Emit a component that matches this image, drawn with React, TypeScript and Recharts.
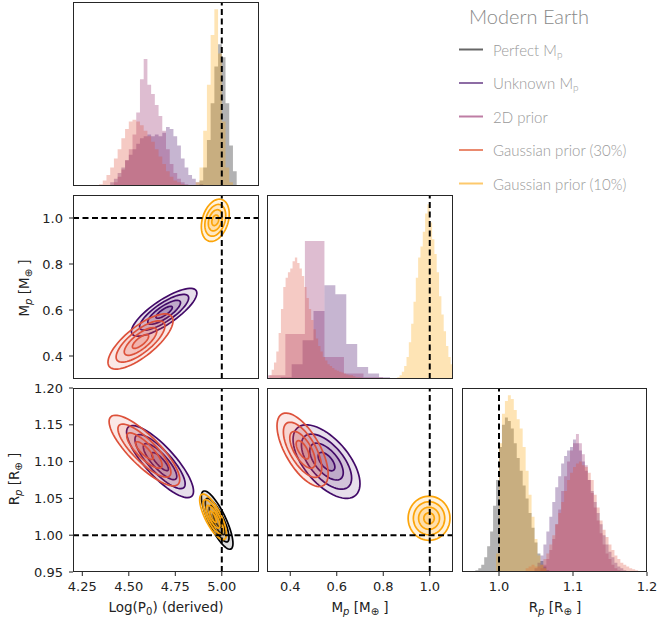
import React from "react";
import { ComposedChart, Area, Scatter, XAxis, YAxis, ReferenceLine } from "recharts";

// series colours (inferno-like)
const C_PERFECT = "#000004";
const C_UNKNOWN = "#420a68";
const C_PRIOR2D = "#932667";
const C_GAUSS30 = "#dd513a";
const C_GAUSS10 = "#fca50a";

const legendNames = ["Perfect M", "Unknown M", "2D prior", "Gaussian prior (30%)", "Gaussian prior (10%)"];
const legendColors = ["#666666", "#8d6ca4", "#be7da4", "#ea8a6f", "#fdc96c"];

const logpTicks = [4.25, 4.5, 4.75, 5.0];
const mpTicks = [0.4, 0.6, 0.8, 1.0];
const rpTicksY = [0.95, 1.0, 1.05, 1.1, 1.15, 1.2];
const rpTicksX = [1.0, 1.1, 1.2];

// ---- 1D histograms: bin start, bin width, heights (fraction of panel) ----
const logpPerfect = { from: 4.88, w: 0.02, h: [0.03, 0.1, 0.25, 0.45, 0.65, 0.77, 0.7, 0.45, 0.22, 0.08] };
const logpUnknown = { from: 4.4, w: 0.02, h: [0.02, 0.04, 0.07, 0.1, 0.14, 0.17, 0.2, 0.23, 0.26, 0.27, 0.28, 0.27, 0.28, 0.27, 0.29, 0.32, 0.31, 0.27, 0.22, 0.15, 0.1, 0.06, 0.04, 0.02, 0.01] };
const logpPrior2d = { from: 4.42, w: 0.02, h: [0.02, 0.05, 0.09, 0.14, 0.2, 0.28, 0.4, 0.58, 0.69, 0.55, 0.5, 0.44, 0.38, 0.3, 0.2, 0.12, 0.07, 0.04, 0.02, 0.01] };
const logpGauss30 = { from: 4.34, w: 0.02, h: [0.01, 0.03, 0.06, 0.1, 0.15, 0.2, 0.26, 0.31, 0.35, 0.36, 0.35, 0.33, 0.3, 0.27, 0.24, 0.2, 0.16, 0.12, 0.08, 0.05, 0.03, 0.02, 0.01] };
const logpGauss10 = { from: 4.86, w: 0.02, h: [0.02, 0.1, 0.3, 0.55, 0.82, 0.96, 0.72, 0.35, 0.1, 0.02] };

const mpUnknown = { from: 0.359, w: 0.047, h: [0.01, 0.08, 0.21, 0.37, 0.51, 0.46, 0.19, 0.065, 0.03, 0.01] };
const mpPrior2d = { from: 0.295, w: 0.084, h: [0.02, 0.245, 0.75, 0.12, 0.03, 0.01] };
const mpGauss30 = { from: 0.31, w: 0.01, h: [0.02, 0.05, 0.09, 0.15, 0.25, 0.38, 0.5, 0.55, 0.58, 0.6, 0.64, 0.66, 0.63, 0.6, 0.56, 0.5, 0.44, 0.38, 0.32, 0.27, 0.22, 0.18, 0.15, 0.12, 0.1, 0.08, 0.07, 0.06, 0.05, 0.045, 0.04, 0.035, 0.03, 0.025, 0.02, 0.02, 0.015, 0.01, 0.01, 0.008, 0.005] };
const mpGauss10 = { from: 0.86, w: 0.01, h: [0.01, 0.02, 0.04, 0.07, 0.12, 0.2, 0.3, 0.42, 0.55, 0.66, 0.72, 0.8, 0.9, 0.95, 0.85, 0.76, 0.68, 0.58, 0.45, 0.35, 0.26, 0.18, 0.12, 0.08] };

const rpPerfect = { from: 0.968, w: 0.004, h: [0.01, 0.02, 0.04, 0.08, 0.14, 0.22, 0.36, 0.5, 0.68, 0.8, 0.84, 0.82, 0.78, 0.7, 0.62, 0.55, 0.47, 0.4, 0.32, 0.24, 0.16, 0.1, 0.06, 0.03, 0.01] };
const rpGauss10 = { from: 0.996, w: 0.004, h: [0.1, 0.7, 0.86, 0.93, 0.96, 0.94, 0.88, 0.83, 0.78, 0.68, 0.55, 0.42, 0.3, 0.18, 0.09, 0.04, 0.02] };
const rpUnknown = { from: 1.048, w: 0.004, h: [0.02, 0.05, 0.09, 0.15, 0.22, 0.3, 0.38, 0.46, 0.52, 0.59, 0.63, 0.66, 0.68, 0.72, 0.7, 0.66, 0.6, 0.55, 0.5, 0.44, 0.38, 0.32, 0.26, 0.2, 0.15, 0.11, 0.08, 0.05, 0.03, 0.02, 0.01] };
const rpPrior2d = { from: 1.056, w: 0.004, h: [0.02, 0.04, 0.07, 0.12, 0.18, 0.26, 0.34, 0.44, 0.52, 0.6, 0.66, 0.7, 0.75, 0.7, 0.64, 0.58, 0.5, 0.43, 0.35, 0.28, 0.21, 0.15, 0.1, 0.07, 0.04, 0.02, 0.01] };
const rpGauss30 = { from: 1.036, w: 0.004, h: [0.02, 0.03, 0.04, 0.03, 0.03, 0.04, 0.07, 0.1, 0.15, 0.2, 0.26, 0.32, 0.38, 0.44, 0.5, 0.54, 0.57, 0.59, 0.6, 0.58, 0.57, 0.54, 0.5, 0.42, 0.35, 0.28, 0.23, 0.19, 0.15, 0.12, 0.09, 0.07, 0.05, 0.04, 0.03, 0.02, 0.015, 0.01, 0.005] };

// ---- 2D contours: centre, spread and correlation ----
const mpLogpContours = [
  { col: C_UNKNOWN, mx: 4.69, my: 0.59, sx: 0.088, sy: 0.052, rho: 0.8 },
  { col: C_GAUSS30, mx: 4.563, my: 0.463, sx: 0.0875, sy: 0.06, rho: 0.75 },
  { col: C_GAUSS10, mx: 4.965, my: 0.99, sx: 0.0375, sy: 0.046, rho: 0.3 },
];
const rpLogpContours = [
  { col: C_PERFECT, mx: 4.975, my: 1.0205, sx: 0.0425, sy: 0.0198, rho: -0.8 },
  { col: C_UNKNOWN, mx: 4.668, my: 1.1, sx: 0.09, sy: 0.0245, rho: -0.82 },
  { col: C_GAUSS30, mx: 4.584, my: 1.115, sx: 0.095, sy: 0.024, rho: -0.82 },
  { col: C_GAUSS10, mx: 4.953, my: 1.025, sx: 0.036, sy: 0.0155, rho: -0.75 },
];
const rpMpContours = [
  { col: C_UNKNOWN, mx: 0.556, my: 1.1, sx: 0.072, sy: 0.025, rho: -0.6 },
  { col: C_GAUSS30, mx: 0.453, my: 1.116, sx: 0.055, sy: 0.025, rho: -0.65 },
  { col: C_GAUSS10, mx: 0.997, my: 1.023, sx: 0.045, sy: 0.015, rho: 0.0 },
];
const LEVELS = [2, 1.5, 1, 0.5];

type Hist = { from: number; w: number; h: number[] };
type Cont = { col: string; mx: number; my: number; sx: number; sy: number; rho: number };

function steps(hh: Hist) {
  const rows = hh.h.map((v, i) => ({ x: hh.from + i * hh.w, y: v }));
  rows.push({ x: hh.from + hh.h.length * hh.w, y: 0 });
  return rows;
}

function ring(c: Cont, k: number) {
  const pts = [];
  const s = Math.sqrt(1 - c.rho * c.rho);
  for (let i = 0; i < 64; i++) {
    const t = (i / 64) * 2 * Math.PI;
    pts.push({
      x: c.mx + k * c.sx * Math.cos(t),
      y: c.my + k * c.sy * (c.rho * Math.cos(t) + s * Math.sin(t)),
    });
  }
  return pts;
}

const NoDot = () => <g />;

function closed(points: { x: number; y: number }[]) {
  if (!points || !points.length) return "";
  return points.map((p, i) => `${i ? "L" : "M"}${p.x},${p.y}`).join("") + "Z";
}

function histAreas(list: [Hist, string][]) {
  return list.map(([hh, col], i) => (
    <Area
      key={"h" + i}
      data={steps(hh)}
      dataKey="y"
      type="stepAfter"
      fill={col}
      fillOpacity={0.3}
      stroke="none"
      dot={false}
      activeDot={false}
      isAnimationActive={false}
    />
  ));
}

function contours(list: Cont[]) {
  const out: React.ReactNode[] = [];
  list.forEach((c, ci) => {
    LEVELS.forEach((k, li) => {
      out.push(
        <Scatter
          key={`c${ci}-${li}`}
          data={ring(c, k)}
          shape={NoDot}
          lineType="joint"
          line={(p: any) => (
            <path d={closed(p.points)} fill={c.col} fillOpacity={0.13} stroke={c.col} strokeWidth={1.7} />
          )}
          isAnimationActive={false}
        />
      );
    });
  });
  return out;
}

const tickStyle = { fontFamily: "DejaVu Sans", fontSize: 13, fill: "#222" };
const f1 = (v: number) => v.toFixed(1);
const f2 = (v: number) => v.toFixed(2);

type Box = { x: number; y: number; w: number; h: number };

function Panel(props: {
  box: Box;
  xDomain: number[];
  yDomain: number[];
  xTicks?: number[];
  yTicks?: number[];
  xFmt?: (v: number) => string;
  yFmt?: (v: number) => string;
  vx?: number;
  hy?: number;
  children: React.ReactNode;
}) {
  const { box, xTicks, yTicks } = props;
  const showX = !!xTicks;
  const showY = !!yTicks;
  const yW = showY ? 60 : 0;
  const xH = showX ? 30 : 0;
  const m = { top: 10, right: 10, bottom: 0, left: 0 };
  const width = yW + box.w + m.right;
  const height = m.top + box.h + xH;
  return (
    <div style={{ position: "absolute", left: box.x - yW, top: box.y - m.top }}>
      <ComposedChart width={width} height={height} margin={m}>
        <XAxis
          type="number"
          dataKey="x"
          domain={props.xDomain}
          allowDataOverflow
          hide={!showX}
          ticks={xTicks}
          tickFormatter={props.xFmt}
          axisLine={false}
          tickSize={4}
          tickMargin={6}
          tickLine={{ stroke: "#222" }}
          tick={tickStyle}
          height={xH}
          interval={0}
        />
        <YAxis
          type="number"
          dataKey="y"
          domain={props.yDomain}
          allowDataOverflow
          hide={!showY}
          ticks={yTicks}
          tickFormatter={props.yFmt}
          axisLine={false}
          tickSize={4}
          tickMargin={6}
          tickLine={{ stroke: "#222" }}
          tick={tickStyle}
          width={yW}
          interval={0}
        />
        {props.children}
        {props.vx !== undefined && (
          <ReferenceLine x={props.vx} stroke="#000" strokeWidth={2} strokeDasharray="6 3.5" zIndex={1500} />
        )}
        {props.hy !== undefined && (
          <ReferenceLine y={props.hy} stroke="#000" strokeWidth={2} strokeDasharray="6 3.5" zIndex={1500} />
        )}
      </ComposedChart>
    </div>
  );
}

const boxes: Box[] = [
  { x: 73, y: 2, w: 186, h: 184 },
  { x: 73, y: 195, w: 186, h: 184 },
  { x: 267, y: 195, w: 186, h: 184 },
  { x: 73, y: 388, w: 186, h: 184 },
  { x: 267, y: 388, w: 186, h: 184 },
  { x: 462, y: 388, w: 185, h: 184 },
];

const labelFont = { fontFamily: "DejaVu Sans", fontSize: 13.5, fill: "#222" };

function SubLabel({ main, sub, unit, unitSub }: { main: string; sub: string; unit: string; unitSub: string }) {
  return (
    <>
      <tspan>{main}</tspan>
      <tspan fontSize={10} fontStyle="italic" dy={4}>{sub}</tspan>
      <tspan dy={-4}>{" [" + unit}</tspan>
      <tspan fontSize={10} dy={4}>{unitSub}</tspan>
      <tspan dy={-4}>{" ]"}</tspan>
    </>
  );
}

export default function App() {
  const logpDom = [4.2, 5.2];
  const mpDom = [0.3, 1.1];
  const rpDom = [0.95, 1.2];
  const legendY = [49.5, 83, 116.5, 150, 183.5];
  return (
    <div style={{ position: "fixed", left: 0, top: 0, width: 658, height: 622, background: "#fff", overflow: "hidden" }}>
      <Panel box={boxes[0]} xDomain={logpDom} yDomain={[0, 1]} vx={5}>
        {histAreas([
          [logpPerfect, C_PERFECT],
          [logpUnknown, C_UNKNOWN],
          [logpPrior2d, C_PRIOR2D],
          [logpGauss30, C_GAUSS30],
          [logpGauss10, C_GAUSS10],
        ])}
      </Panel>
      <Panel box={boxes[1]} xDomain={logpDom} yDomain={mpDom} yTicks={mpTicks} yFmt={f1} vx={5} hy={1}>
        {contours(mpLogpContours)}
      </Panel>
      <Panel box={boxes[2]} xDomain={mpDom} yDomain={[0, 1]} vx={1}>
        {histAreas([
          [mpUnknown, C_UNKNOWN],
          [mpPrior2d, C_PRIOR2D],
          [mpGauss30, C_GAUSS30],
          [mpGauss10, C_GAUSS10],
        ])}
      </Panel>
      <Panel box={boxes[3]} xDomain={logpDom} yDomain={rpDom} xTicks={logpTicks} xFmt={f2} yTicks={rpTicksY} yFmt={f2} vx={5} hy={1}>
        {contours(rpLogpContours)}
      </Panel>
      <Panel box={boxes[4]} xDomain={mpDom} yDomain={rpDom} xTicks={mpTicks} xFmt={f1} vx={1} hy={1}>
        {contours(rpMpContours)}
      </Panel>
      <Panel box={boxes[5]} xDomain={rpDom} yDomain={[0, 1]} xTicks={rpTicksX} xFmt={f1} vx={1}>
        {histAreas([
          [rpPerfect, C_PERFECT],
          [rpUnknown, C_UNKNOWN],
          [rpPrior2d, C_PRIOR2D],
          [rpGauss30, C_GAUSS30],
          [rpGauss10, C_GAUSS10],
        ])}
      </Panel>

      <svg width={658} height={622} style={{ position: "absolute", left: 0, top: 0, pointerEvents: "none" }}>
        {boxes.map((b, i) => (
          <rect key={i} x={b.x + 0.5} y={b.y + 0.5} width={b.w - 1} height={b.h - 1} fill="none" stroke="#262626" strokeWidth={1} />
        ))}

        <text x={166} y={607} textAnchor="middle" dominantBaseline="central" {...labelFont}>
          <tspan>Log(P</tspan>
          <tspan fontSize={10} dy={4}>0</tspan>
          <tspan dy={-4}>) (derived)</tspan>
        </text>
        <text x={360} y={607} textAnchor="middle" dominantBaseline="central" {...labelFont}>
          <SubLabel main="M" sub="p" unit="M" unitSub="⊕" />
        </text>
        <text x={555} y={607} textAnchor="middle" dominantBaseline="central" {...labelFont}>
          <SubLabel main="R" sub="p" unit="R" unitSub="⊕" />
        </text>
        <text x={24} y={288} textAnchor="middle" dominantBaseline="central" transform="rotate(-90 24 288)" {...labelFont}>
          <SubLabel main="M" sub="p" unit="M" unitSub="⊕" />
        </text>
        <text x={14} y={479} textAnchor="middle" dominantBaseline="central" transform="rotate(-90 14 479)" {...labelFont}>
          <SubLabel main="R" sub="p" unit="R" unitSub="⊕" />
        </text>

        <text x={469} y={16} dominantBaseline="central" fontFamily="Lato" fontWeight={300} fontSize={20} fill="#8a8a8a">
          Modern Earth
        </text>
        {legendNames.map((name, i) => (
          <g key={name}>
            <line x1={459} x2={483} y1={legendY[i]} y2={legendY[i]} stroke={legendColors[i]} strokeWidth={2} />
            <text x={493} y={legendY[i]} dominantBaseline="central" fontFamily="Lato" fontWeight={300} fontSize={15} fill="#999">
              {name}
              {i < 2 && (
                <tspan fontSize={10} dy={4}>
                  p
                </tspan>
              )}
            </text>
          </g>
        ))}
      </svg>
    </div>
  );
}
